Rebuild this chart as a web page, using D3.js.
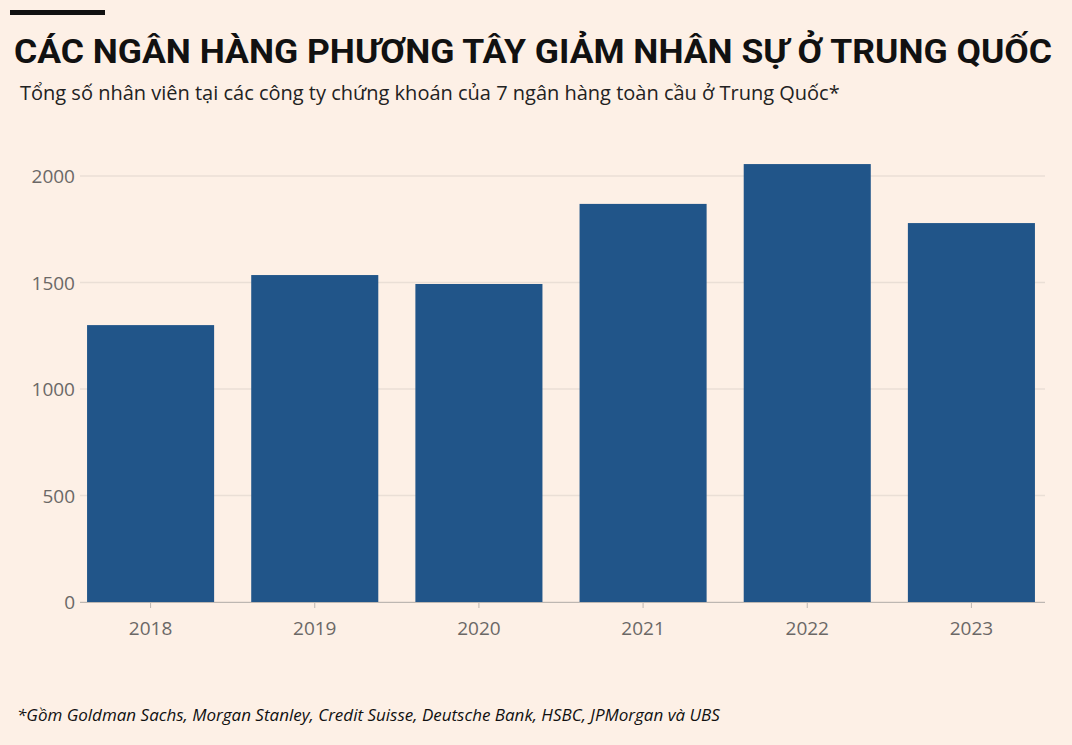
<!DOCTYPE html>
<html><head><meta charset="utf-8">
<script src="https://cdn.jsdelivr.net/npm/d3@7"></script>
<style>body{margin:0;background:#fdf0e6}</style>
</head><body>
<svg id="c" width="1072" height="745"></svg>
<script>
const years = ["2018","2019","2020","2021","2022","2023"];
const staff = [1300, 1535, 1493, 1869, 2056, 1779];
const yTicks = [0, 500, 1000, 1500, 2000];

const svg = d3.select("#c");
svg.append("rect").attr("width",1072).attr("height",745).attr("fill","#fdf0e6");
svg.append("rect").attr("x",10).attr("y",10).attr("width",95).attr("height",5).attr("fill","#111");

svg.append("text").attr("x",14).attr("y",63)
  .attr("font-family","'Liberation Sans Narrow','Roboto',sans-serif").attr("font-weight","bold")
  .attr("font-size",34).attr("textLength",1038).attr("lengthAdjust","spacingAndGlyphs")
  .attr("fill","#111").text("CÁC NGÂN HÀNG PHƯƠNG TÂY GIẢM NHÂN SỰ Ở TRUNG QUỐC");
svg.append("text").attr("x",20).attr("y",100)
  .attr("font-family","'Open Sans',sans-serif").attr("font-size",20).attr("fill","#222")
  .text("Tổng số nhân viên tại các công ty chứng khoán của 7 ngân hàng toàn cầu ở Trung Quốc*");
svg.append("text").attr("x",17).attr("y",721)
  .attr("font-family","'Open Sans',sans-serif").attr("font-style","italic").attr("font-size",17).attr("fill","#111")
  .text("*Gồm Goldman Sachs, Morgan Stanley, Credit Suisse, Deutsche Bank, HSBC, JPMorgan và UBS");

const x = d3.scaleBand().domain(years).range([69,1053]).paddingInner(0.226).paddingOuter(0.11);
const y = d3.scaleLinear().domain([0,2000]).range([602,176]);

svg.append("g").selectAll("line").data(yTicks).join("line")
  .attr("x1",80).attr("x2",1045).attr("y1",d=>y(d)).attr("y2",d=>y(d))
  .attr("stroke","#eadfd6").attr("stroke-width",1.5);
svg.append("g").selectAll("text").data(yTicks).join("text")
  .attr("x",75).attr("y",d=>y(d)+7).attr("text-anchor","end")
  .attr("font-family","'Open Sans',sans-serif").attr("font-size",19).attr("fill","#6b6866")
  .text(d=>d);

svg.append("g").selectAll("rect").data(staff).join("rect")
  .attr("x",(d,i)=>x(years[i])).attr("width",x.bandwidth())
  .attr("y",d=>y(d)).attr("height",d=>y(0)-y(d)).attr("fill","#215589");

const xa = svg.append("g").attr("transform","translate(0,602)")
  .call(d3.axisBottom(x).tickSize(6).tickSizeOuter(0));
xa.select(".domain").attr("stroke","#bdb7b2").attr("d","M80,0.5H1045");
xa.selectAll(".tick line").attr("stroke","#bdb7b2");
xa.selectAll(".tick text").attr("font-family","'Open Sans',sans-serif").attr("font-size",19)
  .attr("fill","#6b6866").attr("dy","1.25em");
</script>
</body></html>
